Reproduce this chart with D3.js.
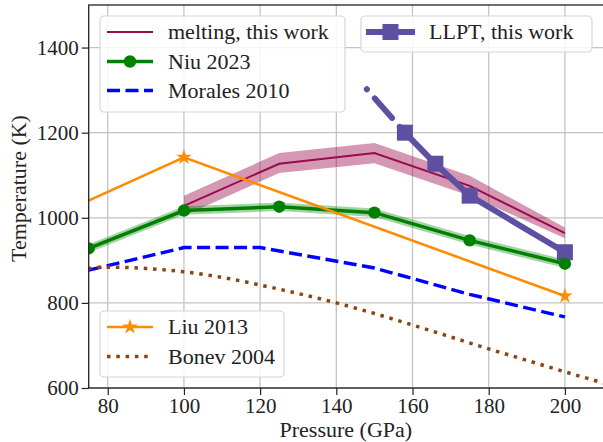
<!DOCTYPE html>
<html>
<head>
<meta charset="utf-8">
<script src="https://cdn.jsdelivr.net/npm/d3@7"></script>
<style>
  html, body { margin: 0; padding: 0; background: #fff; }
  svg { display: block; }
</style>
</head>
<body>
<svg id="chart" width="603" height="442"></svg>
<script>
// ---- data ----
const meltP     = [100, 125, 150, 175, 200];
const meltT     = [1028, 1127, 1152, 1075, 964];
const meltLow   = [1005, 1105, 1128, 1052, 952];
const meltHigh  = [1052, 1152, 1176, 1099, 977];

const llptP     = [158, 166, 175, 200];
const llptT     = [1200, 1127, 1052, 919];
const llptExtP  = [148, 158];
const llptExtT  = [1302, 1200];

const niuP      = [75, 100, 125, 150, 175, 200];
const niuT      = [928, 1017, 1026, 1012, 947, 892];
const niuErr    = [10, 10, 10, 10, 10, 10];

const moralesP  = [75, 100, 120, 150, 175, 200];
const moralesT  = [877, 930, 930, 882, 820, 767];

const liuP      = [50, 100, 200];
const liuT      = [939, 1142, 816];

const bonevP    = [70, 80, 90, 100, 110, 120, 130, 140, 150, 160, 170, 180, 190, 200, 210, 220];
const bonevT    = [874, 884, 881, 873, 860, 842, 822, 800, 775, 748, 720, 692, 665, 638, 612, 585];

const xTicks    = [80, 100, 120, 140, 160, 180, 200];
const yTicks    = [600, 800, 1000, 1200, 1400];

// ---- layout ----
const FONT = "Liberation Serif";
const svg = d3.select("#chart");
const L = 88.7, R = 603, T = 5, B = 388;
const x = d3.scaleLinear().domain([75, 210]).range([L, R]);
const y = d3.scaleLinear().domain([600, 1500]).range([B, T]);

const colors = {
  melt: "#9b0a4b", llpt: "#5e4fa2", niu: "#008000",
  morales: "#0000ff", liu: "#ff8c00", bonev: "#8b4513"
};

svg.append("defs").append("clipPath").attr("id", "plotClip")
  .append("rect").attr("x", L).attr("y", T).attr("width", R - L).attr("height", B - T);

// grid
const grid = svg.append("g");
grid.selectAll(".gx").data(xTicks).join("line")
  .attr("x1", d => x(d)).attr("x2", d => x(d)).attr("y1", T).attr("y2", B)
  .attr("stroke", "#c4c4c4").attr("stroke-width", 1.3);
grid.selectAll(".gy").data(yTicks).join("line")
  .attr("y1", d => y(d)).attr("y2", d => y(d)).attr("x1", L).attr("x2", R)
  .attr("stroke", "#c4c4c4").attr("stroke-width", 1.3);

const plot = svg.append("g").attr("clip-path", "url(#plotClip)");
const line = d3.line().x(d => x(d[0])).y(d => y(d[1]));
const area = d3.area().x(d => x(d[0])).y0(d => y(d[1])).y1(d => y(d[2]));

// melting band + line
plot.append("path").datum(meltP.map((p, i) => [p, meltLow[i], meltHigh[i]]))
  .attr("d", area).attr("fill", colors.melt).attr("fill-opacity", 0.42);
plot.append("path").datum(meltP.map((p, i) => [p, meltT[i]]))
  .attr("d", line).attr("fill", "none").attr("stroke", colors.melt).attr("stroke-width", 2);

// LLPT
plot.append("path").datum(llptExtP.map((p, i) => [p, llptExtT[i]]))
  .attr("d", line).attr("fill", "none").attr("stroke", colors.llpt).attr("stroke-width", 6)
  .attr("stroke-linecap", "round").attr("stroke-dasharray", "0.1,12,26,12,100");
plot.append("path").datum(llptP.map((p, i) => [p, llptT[i]]))
  .attr("d", line).attr("fill", "none").attr("stroke", colors.llpt).attr("stroke-width", 6);
plot.selectAll(".sq").data(llptP.map((p, i) => [p, llptT[i]])).join("rect")
  .attr("x", d => x(d[0]) - 8).attr("y", d => y(d[1]) - 8)
  .attr("width", 16).attr("height", 16).attr("fill", colors.llpt);

// Niu 2023
plot.append("path").datum(niuP.map((p, i) => [p, niuT[i] - niuErr[i], niuT[i] + niuErr[i]]))
  .attr("d", area).attr("fill", colors.niu).attr("fill-opacity", 0.35);
plot.append("path").datum(niuP.map((p, i) => [p, niuT[i]]))
  .attr("d", line).attr("fill", "none").attr("stroke", colors.niu).attr("stroke-width", 3.5);
plot.selectAll(".ci").data(niuP.map((p, i) => [p, niuT[i]])).join("circle")
  .attr("cx", d => x(d[0])).attr("cy", d => y(d[1])).attr("r", 6.2).attr("fill", colors.niu);

// Morales 2010
plot.append("path").datum(moralesP.map((p, i) => [p, moralesT[i]]))
  .attr("d", line).attr("fill", "none").attr("stroke", colors.morales).attr("stroke-width", 3.4)
  .attr("stroke-dasharray", "13,5.5");

// Liu 2013
plot.append("path").datum(liuP.map((p, i) => [p, liuT[i]]))
  .attr("d", line).attr("fill", "none").attr("stroke", colors.liu).attr("stroke-width", 2.6);
const star = d3.symbol().type(d3.symbolStar).size(75);
plot.selectAll(".st").data(liuP.map((p, i) => [p, liuT[i]])).join("path")
  .attr("d", star).attr("transform", d => `translate(${x(d[0])},${y(d[1])})`)
  .attr("fill", colors.liu);

// Bonev 2004
plot.append("path").datum(bonevP.map((p, i) => [p, bonevT[i]]))
  .attr("d", d3.line().curve(d3.curveMonotoneX).x(d => x(d[0])).y(d => y(d[1])))
  .attr("fill", "none").attr("stroke", colors.bonev).attr("stroke-width", 3.5)
  .attr("stroke-dasharray", "3.5,5.8");

// axes
const xAxis = svg.append("g").attr("transform", `translate(0,${B})`)
  .call(d3.axisBottom(x).tickValues(xTicks).tickSize(7).tickPadding(5));
const yAxis = svg.append("g").attr("transform", `translate(${L},0)`)
  .call(d3.axisLeft(y).tickValues(yTicks).tickSize(7).tickPadding(3).tickFormat(d3.format("d")));
[xAxis, yAxis].forEach(a => {
  a.attr("font-family", FONT).attr("font-size", 21);
  a.select(".domain").remove();
  a.selectAll(".tick line").attr("stroke", "#222").attr("stroke-width", 1.2);
  a.selectAll(".tick text").attr("font-family", FONT).attr("font-size", 21).attr("fill", "#222");
});
xAxis.selectAll(".tick text").attr("dy", "0.62em");

// frame
svg.append("rect").attr("x", L).attr("y", T).attr("width", R - L + 2).attr("height", B - T)
  .attr("fill", "none").attr("stroke", "#222").attr("stroke-width", 1.3);

// axis labels
svg.append("text").attr("x", (L + R) / 2).attr("y", 437).attr("text-anchor", "middle")
  .attr("font-family", FONT).attr("font-size", 22).attr("fill", "#222")
  .text("Pressure (GPa)");
svg.append("text").attr("transform", `translate(26,${(T + B) / 2 - 8}) rotate(-90)`)
  .attr("font-family", FONT).attr("font-size", 22).attr("fill", "#222")
  .attr("text-anchor", "middle")
  .text("Temperature (K)");

// legends
function legend(box, rows, sampleX0, sampleX1, textX) {
  const g = svg.append("g");
  g.append("rect").attr("x", box[0]).attr("y", box[1]).attr("width", box[2]).attr("height", box[3])
    .attr("rx", 4).attr("fill", "#fff").attr("fill-opacity", 0.85)
    .attr("stroke", "#d6d6d6").attr("stroke-width", 1.2);
  rows.forEach(r => {
    const ln = g.append("line").attr("x1", sampleX0).attr("x2", sampleX1).attr("y1", r.y).attr("y2", r.y)
      .attr("stroke", r.color).attr("stroke-width", r.width);
    if (r.dash) ln.attr("stroke-dasharray", r.dash);
    const cx = (sampleX0 + sampleX1) / 2;
    if (r.marker === "circle") g.append("circle").attr("cx", cx).attr("cy", r.y).attr("r", 6.2).attr("fill", r.color);
    if (r.marker === "square") g.append("rect").attr("x", cx - 8).attr("y", r.y - 8).attr("width", 16).attr("height", 16).attr("fill", r.color);
    if (r.marker === "star") g.append("path").attr("d", star).attr("transform", `translate(${cx},${r.y})`).attr("fill", r.color);
    g.append("text").attr("x", textX).attr("y", r.y).attr("dy", "0.33em")
      .attr("font-family", FONT).attr("font-size", 22).attr("fill", "#222")
      .text(r.label);
  });
}
legend([100, 16, 245, 96], [
  { y: 32, color: colors.melt, width: 2, label: "melting, this work" },
  { y: 61.5, color: colors.niu, width: 3.5, marker: "circle", label: "Niu 2023" },
  { y: 90.5, color: colors.morales, width: 3.4, dash: "13,5.5", label: "Morales 2010" }
], 107, 153, 168);
legend([361, 16, 231, 36], [
  { y: 32, color: colors.llpt, width: 6, marker: "square", label: "LLPT, this work" }
], 366, 415, 429);
legend([100, 311, 184, 66], [
  { y: 327, color: colors.liu, width: 2.6, marker: "star", label: "Liu 2013" },
  { y: 356.5, color: colors.bonev, width: 3.5, dash: "3.5,5.8", label: "Bonev 2004" }
], 107, 153, 168);
</script>
</body>
</html>
